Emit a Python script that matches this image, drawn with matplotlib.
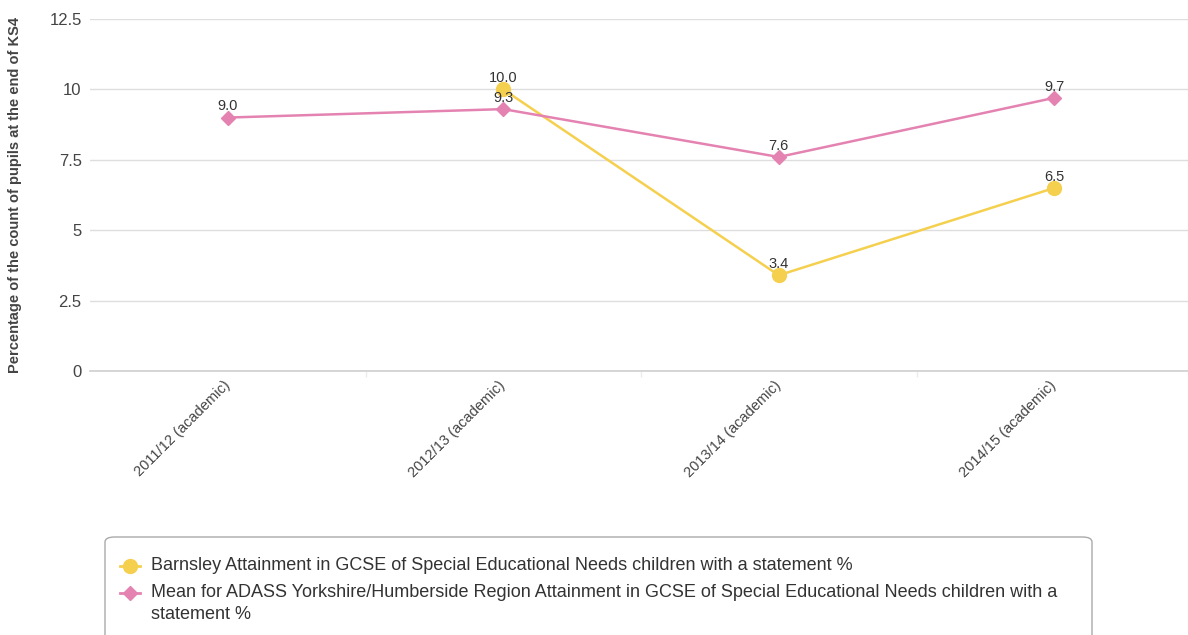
import numpy as np
import matplotlib.pyplot as plt
from matplotlib.lines import Line2D
from matplotlib.patches import FancyBboxPatch

# ===================== Data =====================
years = ["2011/12 (academic)", "2012/13 (academic)",
         "2013/14 (academic)", "2014/15 (academic)"]
barnsley = [np.nan, 10.0, 3.4, 6.5]
adass_mean = [9.0, 9.3, 7.6, 9.7]

barnsley_label = "Barnsley Attainment in GCSE of Special Educational Needs children with a statement %"
adass_label = ("Mean for ADASS Yorkshire/Humberside Region Attainment in GCSE of Special Educational Needs children with a\n"
               "statement %")

YELLOW = "#f5d04f"
PINK = "#e483b1"
TEXT = "#444444"

plt.rcParams["font.family"] = ["Liberation Sans", "DejaVu Sans"]

W, H = 1188, 635

# ===================== Plot =====================
fig = plt.figure(figsize=(W / 100, H / 100), dpi=100)
ax = fig.add_axes([90 / W, 1 - 371 / H, 1102 / W, 352 / H])

x = np.arange(len(years))
ax.plot(x, barnsley, color=YELLOW, lw=1.8, marker="o", ms=10, zorder=3)
ax.plot(x, adass_mean, color=PINK, lw=1.8, marker="D", ms=7.5, zorder=4)

# value labels
for series in (barnsley, adass_mean):
    for xi, v in zip(x, series):
        if not np.isnan(v):
            ax.annotate(f"{v:.1f}", (xi, v), xytext=(0, 3), textcoords="offset points",
                        ha="center", va="bottom", fontsize=10.5, color="#333333", zorder=5)

ax.set_xlim(-0.5, len(years) - 0.5)
ax.set_ylim(0, 12.5)
ax.set_yticks([0, 2.5, 5, 7.5, 10, 12.5])
ax.set_yticklabels(["0", "2.5", "5", "7.5", "10", "12.5"], fontsize=12, color=TEXT)
ax.set_xticks(x)
ax.set_xticklabels(years, rotation=45, ha="right", va="center", rotation_mode="anchor",
                   fontsize=10.5, color=TEXT)
ax.tick_params(axis="x", length=0, pad=9)
ax.tick_params(axis="y", length=0, pad=6)
ax.set_xticks(x[:-1] + 0.5, minor=True)
ax.tick_params(axis="x", which="minor", length=4, color="#ececec", width=1)

ax.grid(True, axis="y", color="#dedede", lw=1)
ax.axhline(0, color="#cfcfcf", lw=1.2, clip_on=False, zorder=1)
ax.set_axisbelow(True)
for s in ax.spines.values():
    s.set_visible(False)

fig.text(15 / W, 1 - 195 / H, "Percentage of the count of pupils at the end of KS4",
         rotation=90, ha="center", va="center", fontsize=10.5, fontweight="bold", color=TEXT)

# Legend box (runs off the bottom edge)
box = FancyBboxPatch((105 / W, -0.05), 987 / W, 0.05 + (H - 537) / H,
                     boxstyle="round,pad=0,rounding_size=0.008", transform=fig.transFigure,
                     facecolor="white", edgecolor="#aaaaaa", lw=1)
fig.add_artist(box)

# Legend entries, drawn by hand so the marker sits on the first text line
entries = [(barnsley_label, YELLOW, "o", 10, 566),
           (adass_label, PINK, "D", 7.5, 593)]
for label, color, marker, ms, yc in entries:
    yf = 1 - yc / H
    fig.add_artist(Line2D([120 / W, 140 / W], [yf, yf], transform=fig.transFigure,
                          color=color, lw=2))
    fig.add_artist(Line2D([130 / W], [yf], transform=fig.transFigure,
                          color=color, marker=marker, ms=ms, lw=0))
    fig.text(151 / W, yf + 9 / H, label, ha="left", va="top", fontsize=13,
             color="#333333", linespacing=1.35)

fig.savefig("out.png", dpi=100)
